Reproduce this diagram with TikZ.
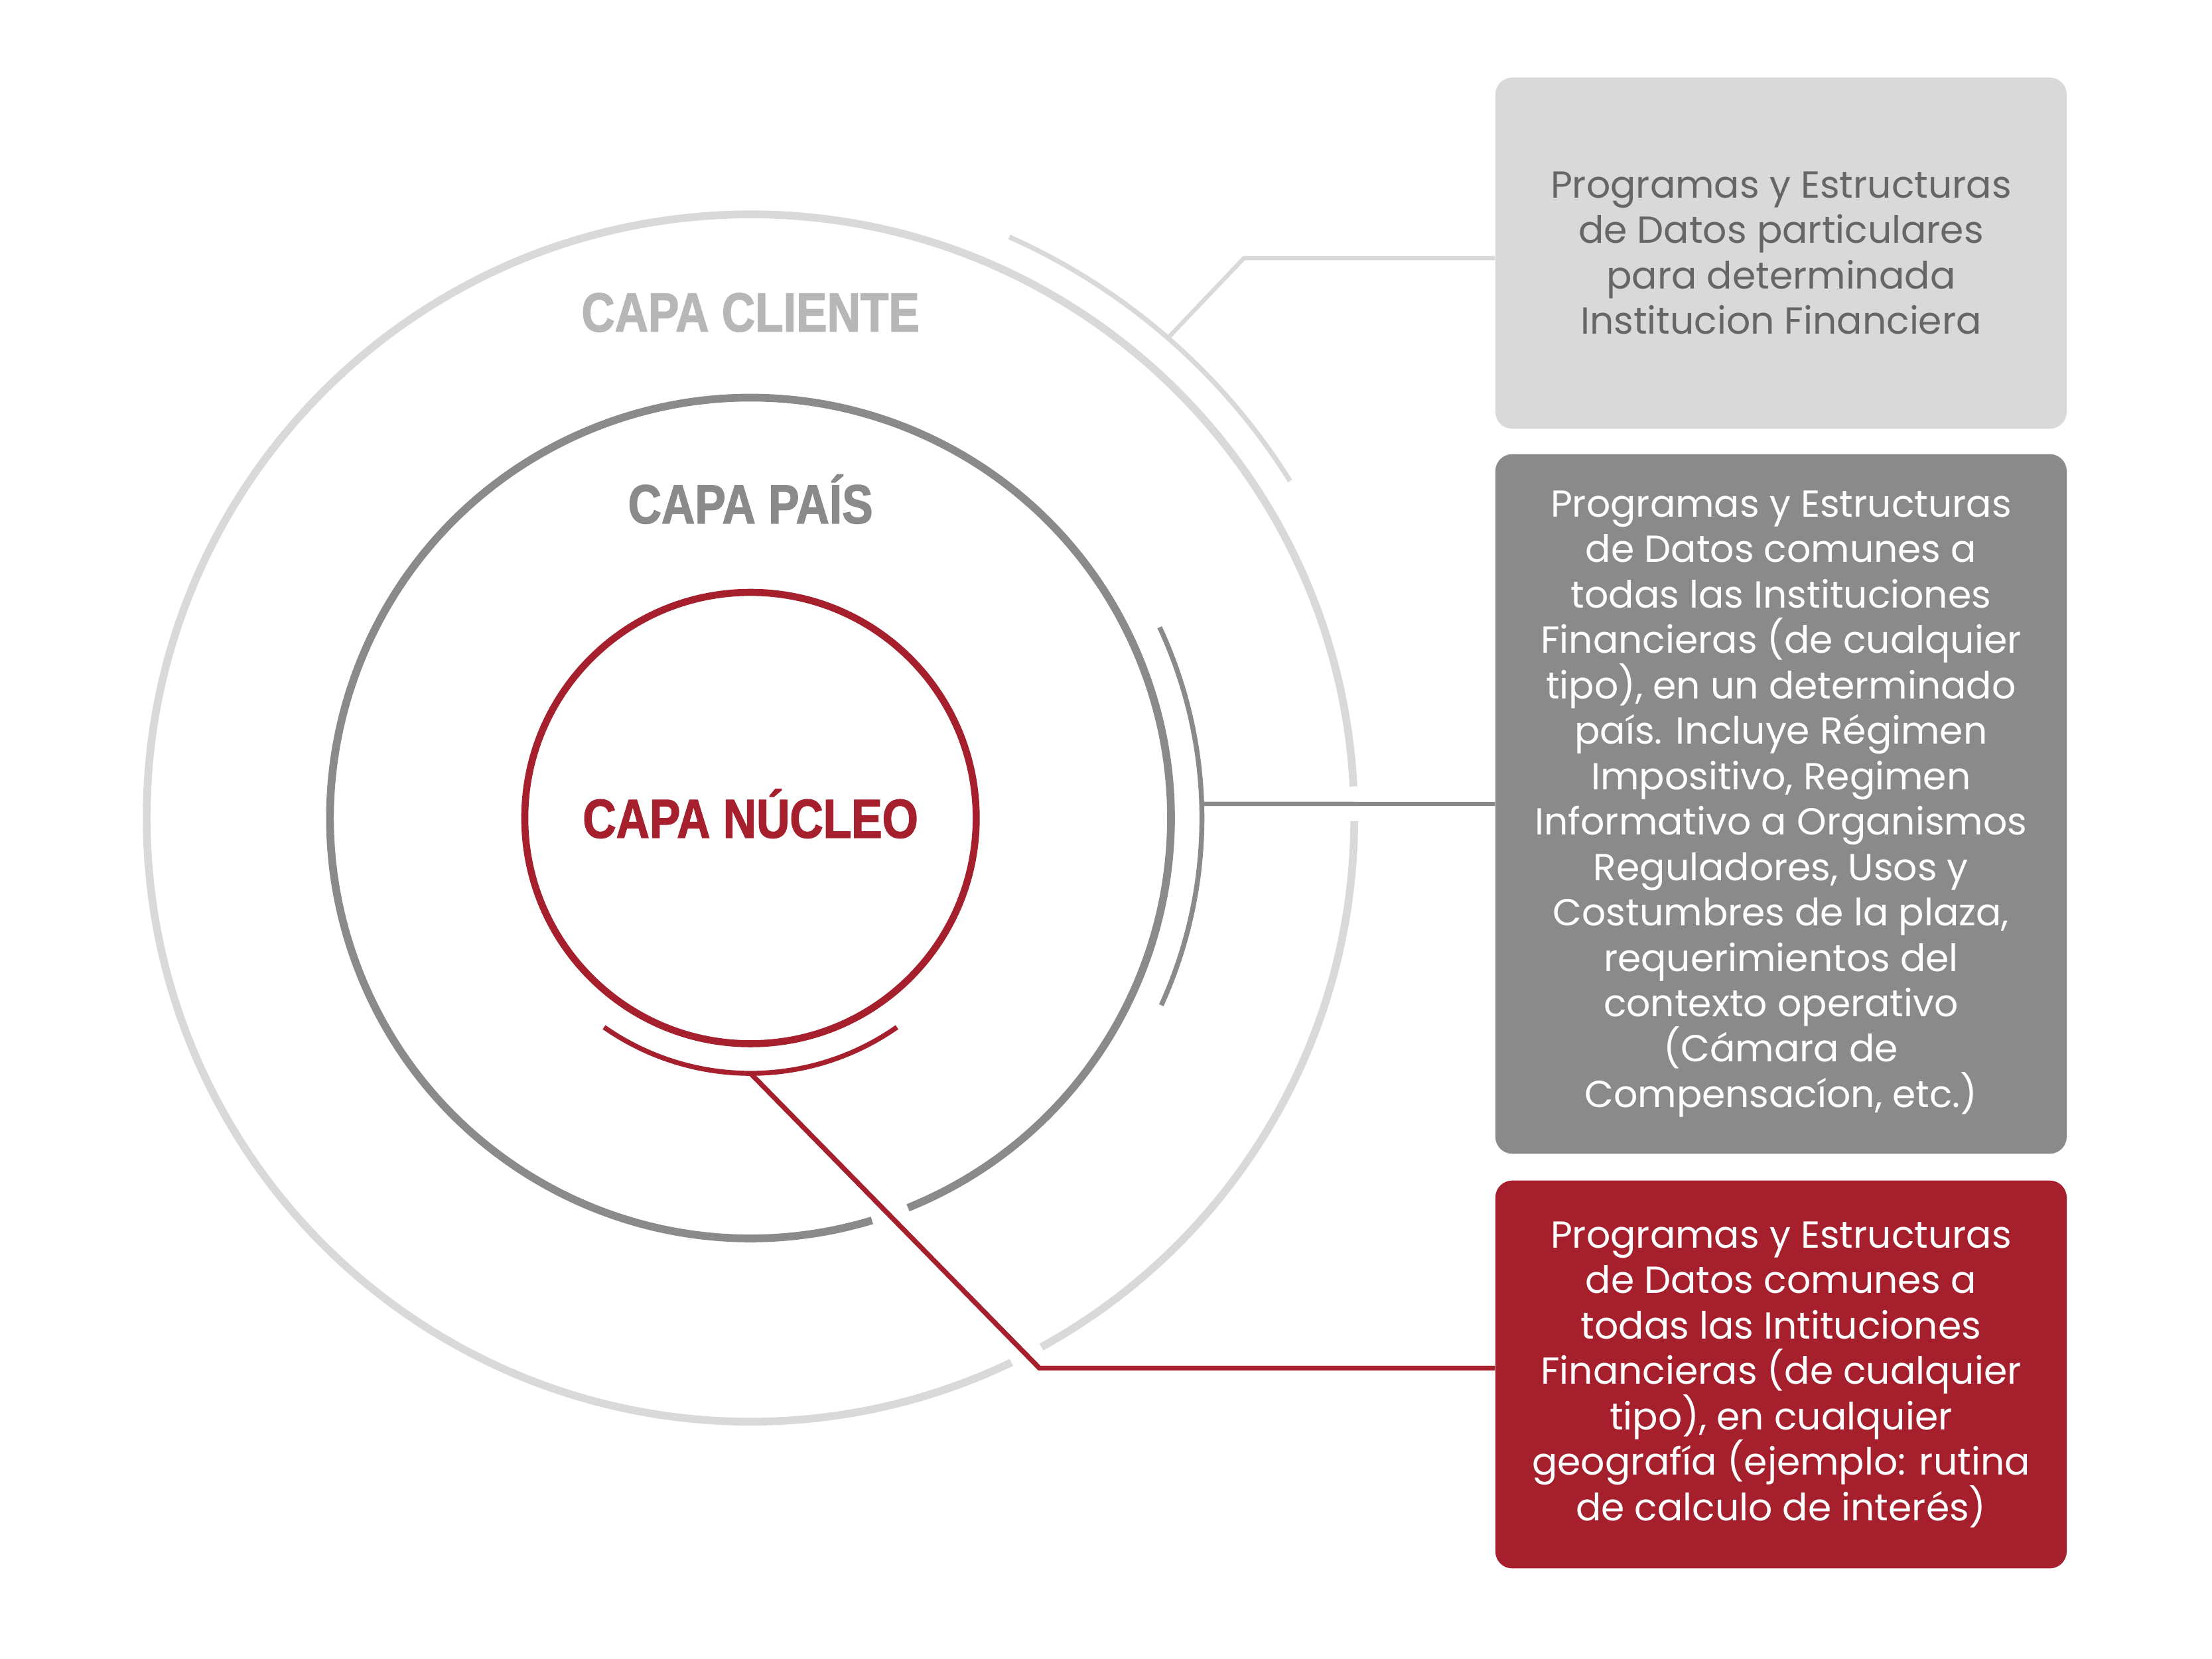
\documentclass[tikz,border=0pt]{standalone}
\usepackage{fontspec}
\setmainfont{Poppins}
\newfontfamily\capafont[FakeStretch=0.84,BoldFeatures={FakeBold=1.6}]{Liberation Sans}
\usepackage{tikz}
\definecolor{capaclaro}{HTML}{D9D9D9}
\definecolor{capagris}{HTML}{8A8A8A}
\definecolor{caparojo}{HTML}{A51F2D}
\definecolor{capatitulo}{HTML}{B7B7B7}
\definecolor{capatexto}{HTML}{666666}

\begin{document}
\begin{tikzpicture}[x=1pt,y=1pt,
    capabox/.style={rectangle,rounded corners=12pt,minimum width=405pt,
      inner sep=0pt,align=center,font=\fontsize{26.7}{32.2}\selectfont},
    capalabel/.style={anchor=base,font=\capafont\bfseries\fontsize{39}{39}\selectfont}]
    \useasboundingbox (-532,-595.8) rectangle (1036,580);
    % the three layers
    \draw[capaclaro,line width=5.5] (3:428) arc[start angle=3,end angle=295.6,radius=428];
    \draw[capaclaro,line width=5.5] (-61.2:428) arc[start angle=-61.2,end angle=-0.3,radius=428];
    \draw[capagris,line width=5.5] (-68:298) arc[start angle=-68,end angle=286.8,radius=298];
    \draw[caparojo,line width=5] (0,0) circle[radius=160];
    \node[capalabel,text=capatitulo] (clilabel) at (0,345) {CAPA CLIENTE};
    \node[capalabel,text=capagris] (paislabel) at (0,209) {CAPA PAÍS};
    \node[capalabel,text=caparojo] (nuclabel) at (0,-14) {CAPA NÚCLEO};
    % brackets
    \draw[capaclaro,line width=3.5] (32:451) arc[start angle=32,end angle=66,radius=451];
    \draw[capagris,line width=3.5] (-24.5:320) arc[start angle=-24.5,end angle=25,radius=320];
    \draw[caparojo,line width=3.5] (-125:181) arc[start angle=-125,end angle=-55,radius=181];
    \coordinate (cliarc) at (49:451);
    \coordinate (paisarc) at (1.8:320);
    \coordinate (nucarc) at (-90:181);
    % boxes
    \node[capabox,fill=capaclaro,text=capatexto,minimum height=249pt] (clibox) at (730.5,400.5)
      {Programas y Estructuras\\de Datos particulares\\para determinada\\Institucion Financiera};
    \node[capabox,fill=capagris,text=white,minimum height=496pt] (paisbox) at (730.5,10)
      {Programas y Estructuras\\de Datos comunes a\\todas las Instituciones\\Financieras (de cualquier\\tipo), en un determinado\\país. Incluye Régimen\\Impositivo, Regimen\\Informativo a Organismos\\Reguladores, Usos y\\Costumbres de la plaza,\\requerimientos del\\contexto operativo\\(Cámara de\\Compensacíon, etc.)};
    \node[capabox,fill=caparojo,text=white,minimum height=275pt] (nucbox) at (730.5,-394.5)
      {Programas y Estructuras\\de Datos comunes a\\todas las Intituciones\\Financieras (de cualquier\\tipo), en cualquier\\geografía (ejemplo: rutina\\de calculo de interés)};
    % connectors
    \draw[capaclaro,line width=3] ([yshift=-3.5]clibox.west) -- ++(-178,0) -- (cliarc);
    \draw[capagris,line width=3] (paisbox.west) -- (paisarc);
    \draw[caparojo,line width=3.5] ([yshift=4.5]nucbox.west) -- ++(-323,0) -- (nucarc);
\end{tikzpicture}
\end{document}
